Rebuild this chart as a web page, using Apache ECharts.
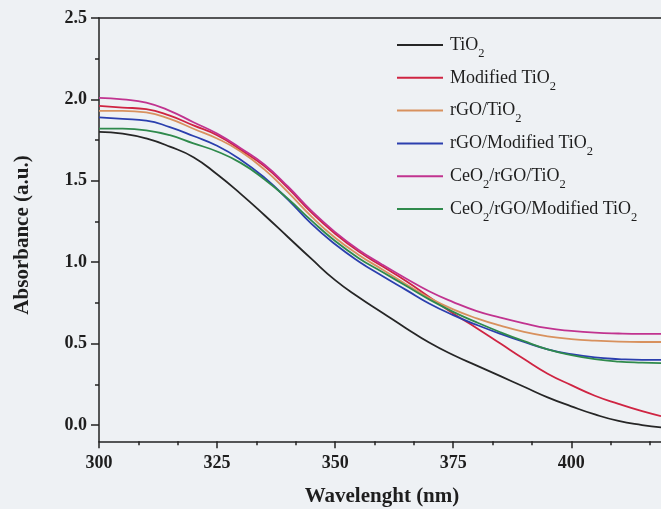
<!DOCTYPE html>
<html>
<head>
<meta charset="utf-8">
<script src="https://cdn.jsdelivr.net/npm/echarts@6/dist/echarts.min.js"></script>
<style>
html,body{margin:0;padding:0;background:#eef1f4;}
#chart{width:661px;height:509px;}
</style>
</head>
<body>
<div id="chart"></div>
<script>
// Wavelength (nm)
const wavelengths = [300,305,310,315,320,325,330,335,340,345,350,355,360,365,370,375,380,385,390,395,400,405,410,415,419];
// Absorbance values
const tio2 = [1.80,1.79,1.76,1.71,1.645,1.54,1.42,1.29,1.155,1.02,0.89,0.785,0.69,0.595,0.505,0.43,0.365,0.30,0.235,0.17,0.115,0.065,0.025,0.0,-0.015];
const modTio2 = [1.96,1.95,1.94,1.90,1.84,1.78,1.69,1.59,1.455,1.305,1.175,1.065,0.975,0.885,0.785,0.685,0.595,0.50,0.405,0.315,0.245,0.18,0.13,0.085,0.055];
const rgoTio2 = [1.93,1.93,1.92,1.88,1.82,1.76,1.68,1.57,1.43,1.28,1.15,1.045,0.955,0.865,0.78,0.71,0.655,0.61,0.572,0.545,0.528,0.518,0.512,0.51,0.51];
const rgoModTio2 = [1.89,1.88,1.87,1.83,1.775,1.715,1.63,1.52,1.385,1.235,1.11,1.005,0.915,0.83,0.745,0.675,0.615,0.56,0.51,0.465,0.435,0.415,0.405,0.40,0.40];
const ceoRgoTio2 = [2.01,2.00,1.98,1.93,1.86,1.79,1.70,1.60,1.465,1.315,1.185,1.075,0.985,0.90,0.82,0.755,0.70,0.66,0.625,0.595,0.578,0.567,0.562,0.56,0.56];
const ceoRgoModTio2 = [1.82,1.82,1.81,1.78,1.73,1.68,1.61,1.51,1.39,1.255,1.13,1.025,0.94,0.855,0.77,0.695,0.63,0.57,0.515,0.465,0.43,0.405,0.39,0.383,0.38];

const seriesNames = ['TiO2','Modified TiO2','rGO/TiO2','rGO/Modified TiO2','CeO2/rGO/TiO2','CeO2/rGO/Modified TiO2'];
const seriesColors = ['#262626','#cf2442','#d8915e','#2b3fae','#c1338f','#2f8a4c'];
const seriesData = [tio2, modTio2, rgoTio2, rgoModTio2, ceoRgoTio2, ceoRgoModTio2];

const xMajorTicks = [300,325,350,375,400];
const xMinorTicks = [308.333,316.667,333.333,341.667,358.333,366.667,383.333,391.667,408.333,416.667];
const yMajorTicks = [0,0.5,1.0,1.5,2.0,2.5];
const yMinorTicks = [0.25,0.75,1.25,1.75,2.25];

const FONT = '"Liberation Serif","Times New Roman",serif';
const AX = '#222';

function legendLabel(name){
  const parts = name.split('2');
  let out = '';
  for (let i = 0; i < parts.length; i++) {
    if (parts[i]) out += '{n|' + parts[i] + '}';
    if (i < parts.length - 1) out += '{s|2}';
  }
  return out;
}

const chart = echarts.init(document.getElementById('chart'), null, {renderer:'canvas'});

const option = {
  backgroundColor: '#eef1f4',
  animation: false,
  grid: {left: 99, right: 0, top: 18, bottom: 67.7, containLabel: false},
  xAxis: [
    {
      type: 'value', min: 300, max: 419, position: 'bottom',
      axisLine: {show: true, onZero: false, lineStyle: {color: AX, width: 1.5}},
      axisTick: {show: true, customValues: xMajorTicks, length: 7, inside: false, lineStyle: {color: AX, width: 1.5}},
      axisLabel: {show: true, customValues: xMajorTicks, margin: 13, color: '#1e1e1e', fontFamily: FONT, fontWeight: 'bold', fontSize: 18},
      splitLine: {show: false}
    },
    {
      type: 'value', min: 300, max: 419, position: 'bottom',
      axisLine: {show: false, onZero: false},
      axisTick: {show: true, customValues: xMinorTicks, length: 4, lineStyle: {color: AX, width: 1.5}},
      axisLabel: {show: false},
      splitLine: {show: false}
    },
    {
      type: 'value', min: 300, max: 419, position: 'top',
      axisLine: {show: true, onZero: false, lineStyle: {color: AX, width: 1.5}},
      axisTick: {show: false},
      axisLabel: {show: false},
      splitLine: {show: false}
    }
  ],
  yAxis: [
    {
      type: 'value', min: -0.1, max: 2.5, position: 'left',
      axisLine: {show: true, onZero: false, lineStyle: {color: AX, width: 1.5}},
      axisTick: {show: true, customValues: yMajorTicks, length: 8, lineStyle: {color: AX, width: 1.5}},
      axisLabel: {show: true, customValues: yMajorTicks, margin: 12, color: '#1e1e1e', fontFamily: FONT, fontWeight: 'bold', fontSize: 18,
        formatter: v => Number(v).toFixed(1)},
      splitLine: {show: false}
    },
    {
      type: 'value', min: -0.1, max: 2.5, position: 'left',
      axisLine: {show: false, onZero: false},
      axisTick: {show: true, customValues: yMinorTicks, length: 4, lineStyle: {color: AX, width: 1.5}},
      axisLabel: {show: false},
      splitLine: {show: false}
    }
  ],
  legend: {
    orient: 'vertical', left: 392, top: 31,
    itemWidth: 46, itemHeight: 2, itemGap: 8.8, icon: 'rect',
    selectedMode: false,
    data: seriesNames,
    formatter: legendLabel,
    textStyle: {
      fontFamily: FONT, fontSize: 18, color: '#1e1e1e', padding: [0,0,0,2],
      rich: {
        n: {fontFamily: FONT, fontSize: 18, color: '#1e1e1e', lineHeight: 30, verticalAlign: 'middle'},
        s: {fontFamily: FONT, fontSize: 12.5, color: '#1e1e1e', lineHeight: 12, verticalAlign: 'bottom'}
      }
    }
  },
  graphic: [
    {type: 'text', x: 382, y: 497, silent: true,
      style: {text: 'Wavelenght (nm)', font: 'bold 21px ' + FONT, fill: '#1e1e1e', align: 'center', verticalAlign: 'middle'}},
    {type: 'text', x: 23, y: 235, rotation: Math.PI / 2, silent: true,
      style: {text: 'Absorbance (a.u.)', font: 'bold 21px ' + FONT, fill: '#1e1e1e', align: 'center', verticalAlign: 'middle'}}
  ],
  series: seriesNames.map((name, i) => ({
    name: name,
    type: 'line',
    xAxisIndex: 0, yAxisIndex: 0,
    smooth: 0.5,
    showSymbol: false,
    symbol: 'none',
    clip: true,
    color: seriesColors[i],
    lineStyle: {color: seriesColors[i], width: 1.8},
    data: wavelengths.map((w, k) => [w, seriesData[i][k]])
  }))
};

chart.setOption(option);
</script>
</body>
</html>
